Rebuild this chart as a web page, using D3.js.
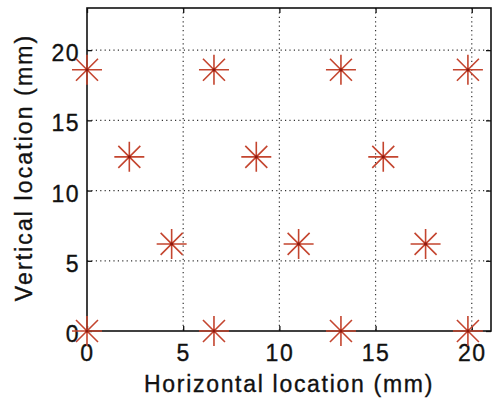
<!DOCTYPE html>
<html>
<head>
<meta charset="utf-8">
<script src="https://cdn.jsdelivr.net/npm/d3@7"></script>
<style>
  body { margin: 0; background: #fff; }
  svg { display: block; }
  text { font-family: "Liberation Sans", Arial, Helvetica, sans-serif; fill: #111; stroke: #111; stroke-width: 0.35px; }
</style>
</head>
<body>
<div id="chart"></div>
<script>
// electrode positions (mm)
var xPos = [0, 6.6, 13.2, 19.8, 2.2, 8.8, 15.4, 4.4, 11, 17.6, 0, 6.6, 13.2, 19.8];
var yPos = [18.6, 18.6, 18.6, 18.6, 12.4, 12.4, 12.4, 6.2, 6.2, 6.2, 0, 0, 0, 0];

var xTicks = [0, 5, 10, 15, 20];
var yTicks = [0, 5, 10, 15, 20];
var xDomain = [0, 21];
var yDomain = [0, 23];

var W = 492, H = 399;
var margin = {top: 8, right: 1, bottom: 68, left: 87};
var width = W - margin.left - margin.right,
    height = H - margin.top - margin.bottom;

var x = d3.scaleLinear().domain(xDomain).range([0, width]);
var y = d3.scaleLinear().domain(yDomain).range([height, 0]);

var svg = d3.select("#chart").append("svg")
    .attr("width", W)
    .attr("height", H);

var g = svg.append("g")
    .attr("transform", "translate(" + margin.left + "," + margin.top + ")");

// dotted grid
g.append("g").selectAll("line")
  .data(xTicks.filter(function(d) { return d > 0; }))
  .enter().append("line")
    .attr("x1", function(d) { return x(d); })
    .attr("x2", function(d) { return x(d); })
    .attr("y1", 0).attr("y2", height)
    .attr("stroke", "#333").attr("stroke-width", 1.2)
    .attr("stroke-dasharray", "1.2,3.2");

g.append("g").selectAll("line")
  .data(yTicks.filter(function(d) { return d > 0; }))
  .enter().append("line")
    .attr("y1", function(d) { return y(d); })
    .attr("y2", function(d) { return y(d); })
    .attr("x1", 0).attr("x2", width)
    .attr("stroke", "#333").attr("stroke-width", 1.2)
    .attr("stroke-dasharray", "1.2,3.2");

// axes, ticks pointing inward on all four sides
function styleAxis(sel) {
  sel.select(".domain").remove();
  sel.selectAll(".tick line").attr("stroke", "#111").attr("stroke-width", 1.3);
  sel.selectAll("text").style("font-size", "23px").style("letter-spacing", "1.5px");
}

var xAxis = g.append("g")
    .attr("transform", "translate(0," + height + ")")
    .call(d3.axisBottom(x).tickValues(xTicks).tickSize(-5).tickPadding(0))
    .call(styleAxis);
xAxis.selectAll("text").attr("y", 30).attr("dy", 0);

var yAxis = g.append("g")
    .call(d3.axisLeft(y).tickValues(yTicks).tickSize(-5).tickPadding(0))
    .call(styleAxis);
yAxis.selectAll("text").attr("x", -7).attr("dy", 10.5);

g.append("g")
    .call(d3.axisTop(x).tickValues(xTicks).tickSize(-5).tickFormat(""))
    .call(styleAxis);
g.append("g")
    .attr("transform", "translate(" + width + ",0)")
    .call(d3.axisRight(y).tickValues(yTicks).tickSize(-5).tickFormat(""))
    .call(styleAxis);

// box
g.append("rect")
    .attr("width", width).attr("height", height)
    .attr("fill", "none").attr("stroke", "#111").attr("stroke-width", 1.6);

// asterisk markers
var star = g.append("g").selectAll(".star")
  .data(d3.range(xPos.length))
  .enter().append("g")
    .attr("class", "star")
    .attr("transform", function(i) { return "translate(" + x(xPos[i]) + "," + y(yPos[i]) + ")"; });

var r = 15, rd = 11;
star.append("path")
    .attr("d", "M" + (-r) + ",0H" + r + "M0," + (-r) + "V" + r +
               "M" + (-rd) + "," + (-rd) + "L" + rd + "," + rd +
               "M" + (-rd) + "," + rd + "L" + rd + "," + (-rd))
    .attr("stroke", "#c4452f")
    .attr("stroke-width", 1.6)
    .attr("fill", "none");
star.append("circle")
    .attr("r", 1.6)
    .attr("fill", "#8e1a10");

// axis titles
svg.append("text")
    .attr("x", margin.left + width / 2)
    .attr("y", 391.5)
    .attr("text-anchor", "middle")
    .style("font-size", "23px")
    .style("letter-spacing", "1.7px")
    .text("Horizontal location (mm)");

svg.append("text")
    .attr("transform", "translate(31.5," + (margin.top + height / 2 - 2) + ") rotate(-90)")
    .attr("text-anchor", "middle")
    .style("font-size", "23px")
    .style("letter-spacing", "2.1px")
    .text("Vertical location (mm)");
</script>
</body>
</html>
